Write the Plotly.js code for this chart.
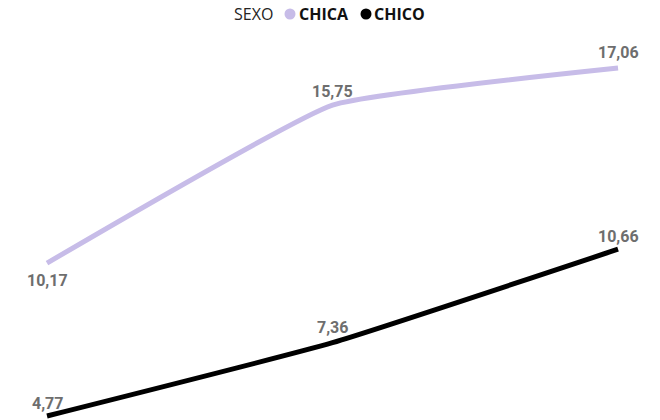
<!DOCTYPE html>
<html><head><meta charset="utf-8">
<script src="https://cdn.plot.ly/plotly-3.0.1.min.js"></script>
<style>html,body{margin:0;padding:0;background:#fff}#chart{width:660px;height:420px}</style>
</head><body><div id="chart"></div>
<script>
var categories = ["A", "B", "C"];
var chica = [10.17, 15.75, 17.06];
var chico = [4.77, 7.36, 10.66];
var chicaLabelShift = [-17, 14, 15];
var chicoLabelShift = [13, 15, 13];
var legendTitle = "SEXO";
var seriesNames = ["CHICA", "CHICO"];
var seriesColors = ["#C7BCE8", "#000000"];

var labelFont = {family: "Roboto, 'Liberation Sans Narrow', sans-serif", size: 16, color: "#6e6e6e", weight: 700};

var traces = [
  {x: categories, y: chica, type: "scatter", mode: "lines", name: seriesNames[0],
   line: {color: seriesColors[0], width: 5, shape: "spline", smoothing: 0.35},
   showlegend: false, hoverinfo: "skip"},
  {x: categories, y: chico, type: "scatter", mode: "lines", name: seriesNames[1],
   line: {color: seriesColors[1], width: 5, shape: "spline", smoothing: 0.4},
   showlegend: false, hoverinfo: "skip"}
];

function fmt(v) { return v.toFixed(2).replace(".", ","); }
var annotations = [];
[[chica, chicaLabelShift], [chico, chicoLabelShift]].forEach(function (s) {
  s[0].forEach(function (v, i) {
    annotations.push({x: categories[i], y: v, xref: "x", yref: "y", text: fmt(v),
      showarrow: false, xanchor: "center", yanchor: "middle", yshift: s[1][i], font: labelFont});
  });
});

var W = 660, H = 420;
var legFont = {family: "'Open Sans', 'Noto Sans', sans-serif", size: 16, color: "#252423"};
var legY = 1 - 14 / H;
annotations.push({xref: "paper", yref: "paper", x: 232 / W, y: legY, xanchor: "left", yanchor: "middle",
  showarrow: false, text: legendTitle, font: legFont});
annotations.push({xref: "paper", yref: "paper", x: 297 / W, y: legY, xanchor: "left", yanchor: "middle",
  showarrow: false, text: "<b>" + seriesNames[0] + "</b>", font: {family: legFont.family, size: 16, color: "#111"}});
annotations.push({xref: "paper", yref: "paper", x: 372 / W, y: legY, xanchor: "left", yanchor: "middle",
  showarrow: false, text: "<b>" + seriesNames[1] + "</b>", font: {family: legFont.family, size: 16, color: "#111"}});

var shapes = [290, 366].map(function (cx, i) {
  return {type: "circle", xref: "paper", yref: "paper", xsizemode: "pixel", ysizemode: "pixel",
    xanchor: cx / W, yanchor: 1 - 14 / H, x0: -5.5, x1: 5.5, y0: -5.5, y1: 5.5,
    fillcolor: seriesColors[i], line: {width: 0}};
});

var layout = {
  width: W, height: H,
  margin: {l: 0, r: 0, t: 0, b: 0},
  paper_bgcolor: "#fff", plot_bgcolor: "#fff",
  showlegend: false,
  xaxis: {type: "category", range: [-0.1646, 2.147], visible: false, fixedrange: true},
  yaxis: {range: [4.629, 19.461], visible: false, fixedrange: true},
  annotations: annotations,
  shapes: shapes
};
Plotly.newPlot("chart", traces, layout, {staticPlot: true});
</script></body></html>
